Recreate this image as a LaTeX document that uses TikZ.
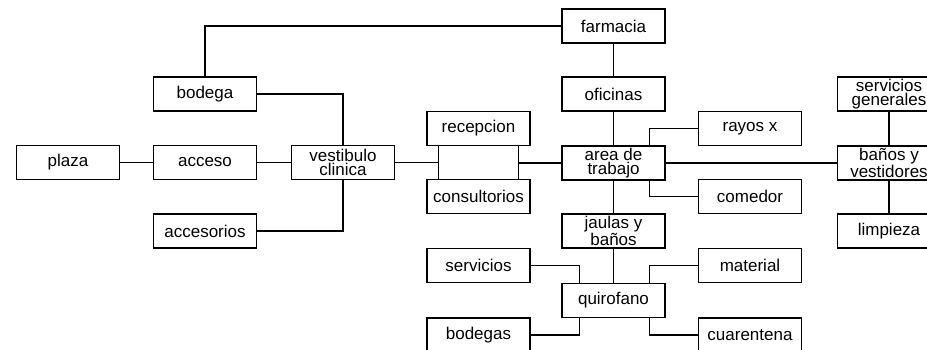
\documentclass[tikz,border=0pt]{standalone}
\usepackage{fontspec}
\setmainfont{Liberation Sans}
\usetikzlibrary{calc}

\begin{document}
\begin{tikzpicture}[x=1pt, y=-1pt, line width=1.2pt,
  caja/.style={draw, minimum width=103pt, minimum height=34pt, inner sep=0pt,
    align=center, font=\fontsize{17}{13.5}\selectfont}]

\useasboundingbox[fill=white] (0,0) rectangle (927,350);

%left side
\node[caja] (plaza) at (68,162.5) {plaza};
\node[caja] (acceso) at (205,162.5) {acceso};
\node[caja] (bodega) at (205,94) {bodega};
\node[caja] (accesorios) at (205,231) {accesorios};
\node[caja] (vestibulo) at (343,162.5) {vestibulo\\clinica};
\node[caja] (recepcion) at (478.5,128.5) {recepcion};
\node[caja] (consultorios) at (478.5,196.5) {consultorios};
\node[caja] (servicios) at (478.5,265.5) {servicios};
\node[caja] (bodegas) at (478.5,335) {bodegas};

%middle column
\node[caja] (farmacia) at (613.5,26) {farmacia};
\node[caja] (oficinas) at (613.5,94) {oficinas};
\node[caja] (area) at (613.5,163) {area de\\trabajo};
\node[caja] (jaulas) at (613.5,231) {jaulas y\\baños};
\node[caja] (quirofano) at (613.5,300.5) {quirofano};

%right side (cut off by the page edge)
\node[caja] (rayos) at (750,128.5) {rayos x};
\node[caja] (comedor) at (750,196.5) {comedor};
\node[caja] (material) at (750,265.5) {material};
\node[caja] (cuarentena) at (750,335) {cuarentena};
\node[caja] (servgen) at (889,94) {servicios\\generales};
\node[caja] (banos) at (889,163) {baños y\\vestidores};
\node[caja] (limpieza) at (889,231) {limpieza};

%connections
\draw (plaza) -- (acceso);
\draw (acceso) -- (vestibulo);
\draw (bodega.north) |- (farmacia.west);
\draw (bodega.east) -| (vestibulo.north);
\draw (accesorios.east) -| (vestibulo.south);

\coordinate (ra) at ([xshift=12pt]recepcion.south west);
\coordinate (rb) at ([xshift=-12pt]recepcion.south east);
\coordinate (ca) at ([xshift=12pt]consultorios.north west);
\coordinate (cb) at ([xshift=-12pt]consultorios.north east);
\draw (ra) -- (ca);
\draw (rb) -- (cb);
\draw (vestibulo.east) -- (vestibulo.east -| ra);
\draw (area.west) -- (area.west -| rb);

\draw (farmacia) -- (oficinas);
\draw (oficinas) -- (area);
\draw (area) -- (jaulas);
\draw (jaulas) -- (quirofano);
\draw ([xshift=-16pt]area.north east) |- (rayos.west);
\draw ([xshift=-16pt]area.south east) |- (comedor.west);
\draw (area.east) -- (banos.west);
\draw (servgen) -- (banos);
\draw (banos) -- (limpieza);

\draw (servicios.east) -| ([xshift=18pt]quirofano.north west);
\draw (material.west) -| ([xshift=-16pt]quirofano.north east);
\draw (bodegas.east) -| ([xshift=18pt]quirofano.south west);
\draw (cuarentena.west) -| ([xshift=-16pt]quirofano.south east);

\end{tikzpicture}
\end{document}
